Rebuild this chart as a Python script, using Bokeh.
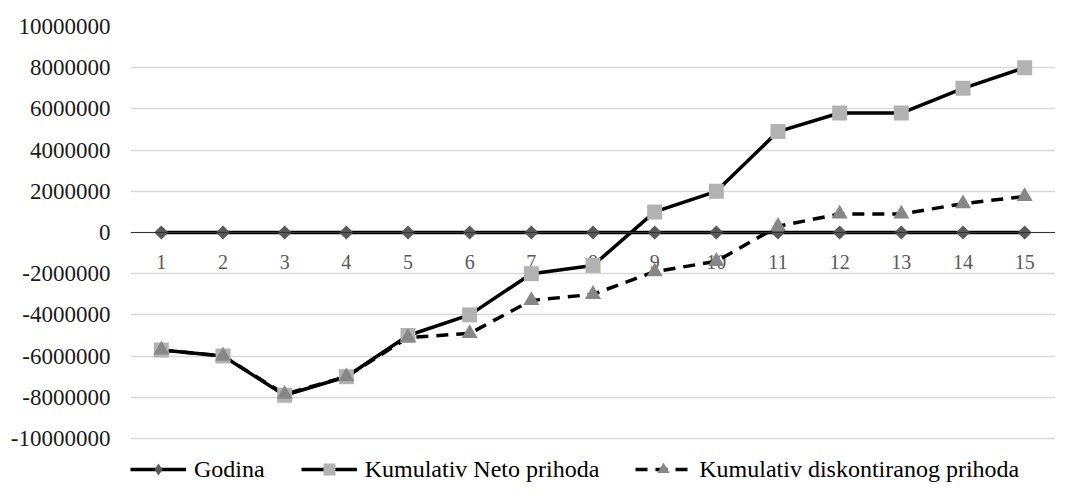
from bokeh.plotting import figure
from bokeh.models import (FactorRange, Range1d, FixedTicker, PrintfTickFormatter,
                          Legend, LegendItem, Span)
from bokeh.core.properties import value
from bokeh.embed import file_html
from bokeh.resources import INLINE

# ---- data ----
categories = ["1", "2", "3", "4", "5", "6", "7", "8", "9", "10", "11", "12", "13", "14", "15"]
godina = [1, 2, 3, 4, 5, 6, 7, 8, 9, 10, 11, 12, 13, 14, 15]
kumulativ_neto = [-5700000, -6000000, -7900000, -7000000, -5000000, -4000000, -2000000,
                  -1600000, 1000000, 2000000, 4900000, 5800000, 5800000, 7000000, 8000000]
kumulativ_disk = [-5700000, -6000000, -7850000, -7000000, -5100000, -4900000, -3300000,
                  -3000000, -1900000, -1400000, 300000, 900000, 900000, 1400000, 1750000]
y_ticks = [-10000000, -8000000, -6000000, -4000000, -2000000, 0,
           2000000, 4000000, 6000000, 8000000, 10000000]
y_min, y_max = -10000000, 10000000
x_axis_cross = 0

FONT = "Liberation Serif"

# layout (pixels)
W, H = 1055, 486
TOP = 26          # pixel row of the top gridline
GRID_H = 412      # pixels between top and bottom gridlines
extra_px = H - TOP - GRID_H   # room under the lowest gridline for the legend
y_lo = y_min - extra_px * (y_max - y_min) / GRID_H

p = figure(width=W, height=H, output_backend="svg", toolbar_location=None,
           x_range=FactorRange(factors=categories, range_padding=0),
           y_range=Range1d(y_lo, y_max),
           min_border_left=130, min_border_right=0, min_border_top=TOP, min_border_bottom=0)
p.outline_line_color = None
p.xaxis.visible = False

yax = p.yaxis[0]
yax.ticker = FixedTicker(ticks=y_ticks)
yax.formatter = PrintfTickFormatter(format="%d")
yax.axis_line_color = None
yax.major_tick_line_color = None
yax.minor_tick_line_color = None
yax.major_tick_out = 0
yax.major_tick_in = 0
yax.minor_tick_out = 0
yax.major_label_standoff = 20
yax.major_label_text_font = FONT
yax.major_label_text_font_size = "23px"
yax.major_label_text_color = "#1a1a1a"

p.xgrid.visible = False
p.ygrid.ticker = FixedTicker(ticks=y_ticks)
p.ygrid.grid_line_color = "#d9d9d9"
p.ygrid.grid_line_width = 1.3

# horizontal axis line crossing at 0
p.add_layout(Span(location=x_axis_cross, dimension="width", line_color="#333333", line_width=1))

zeros = [x_axis_cross] * len(categories)
p.text(x=categories, y=zeros, text=categories, text_font=value(FONT),
       text_font_size="20px", text_color="#595959", text_align="center",
       text_baseline="middle", y_offset=29)

# lines
LW = 3.5
l1 = p.line(categories, godina, line_color="black", line_width=LW)
l2 = p.line(categories, kumulativ_neto, line_color="black", line_width=LW)
l3 = p.line(categories, kumulativ_disk, line_color="black", line_width=LW, line_dash="12 8")

# markers
m1 = p.scatter(categories, godina, marker="square", angle=0.785398, size=10,
               fill_color="#595959", line_color=None)
m2 = p.scatter(categories, kumulativ_neto, marker="square", size=15,
               fill_color="#b2b2b2", line_color=None)
m3 = p.scatter(categories, kumulativ_disk, marker="triangle", size=16,
               fill_color="#878787", line_color=None)

# legend key for the diamond (hidden renderer, only its legend swatch is shown)
m1_key = p.scatter(categories, godina, marker="diamond", size=16,
                   fill_color="#595959", line_color=None, visible=False)

legend = Legend(items=[
    LegendItem(label="Godina", renderers=[l1, m1_key]),
    LegendItem(label="Kumulativ Neto prihoda", renderers=[l2, m2]),
    LegendItem(label="Kumulativ diskontiranog prihoda", renderers=[l3, m3]),
], orientation="horizontal", location=(0, 2))
legend.label_text_font = FONT
legend.label_text_font_size = "24px"
legend.label_text_color = "black"
legend.glyph_width = 56
legend.glyph_height = 30
legend.label_standoff = 8
legend.spacing = 36
legend.padding = 0
legend.margin = 0
legend.border_line_color = None
legend.background_fill_alpha = 0
legend.inactive_fill_alpha = 0
p.add_layout(legend, "center")

open("out.html", "w").write(file_html(p, INLINE))
